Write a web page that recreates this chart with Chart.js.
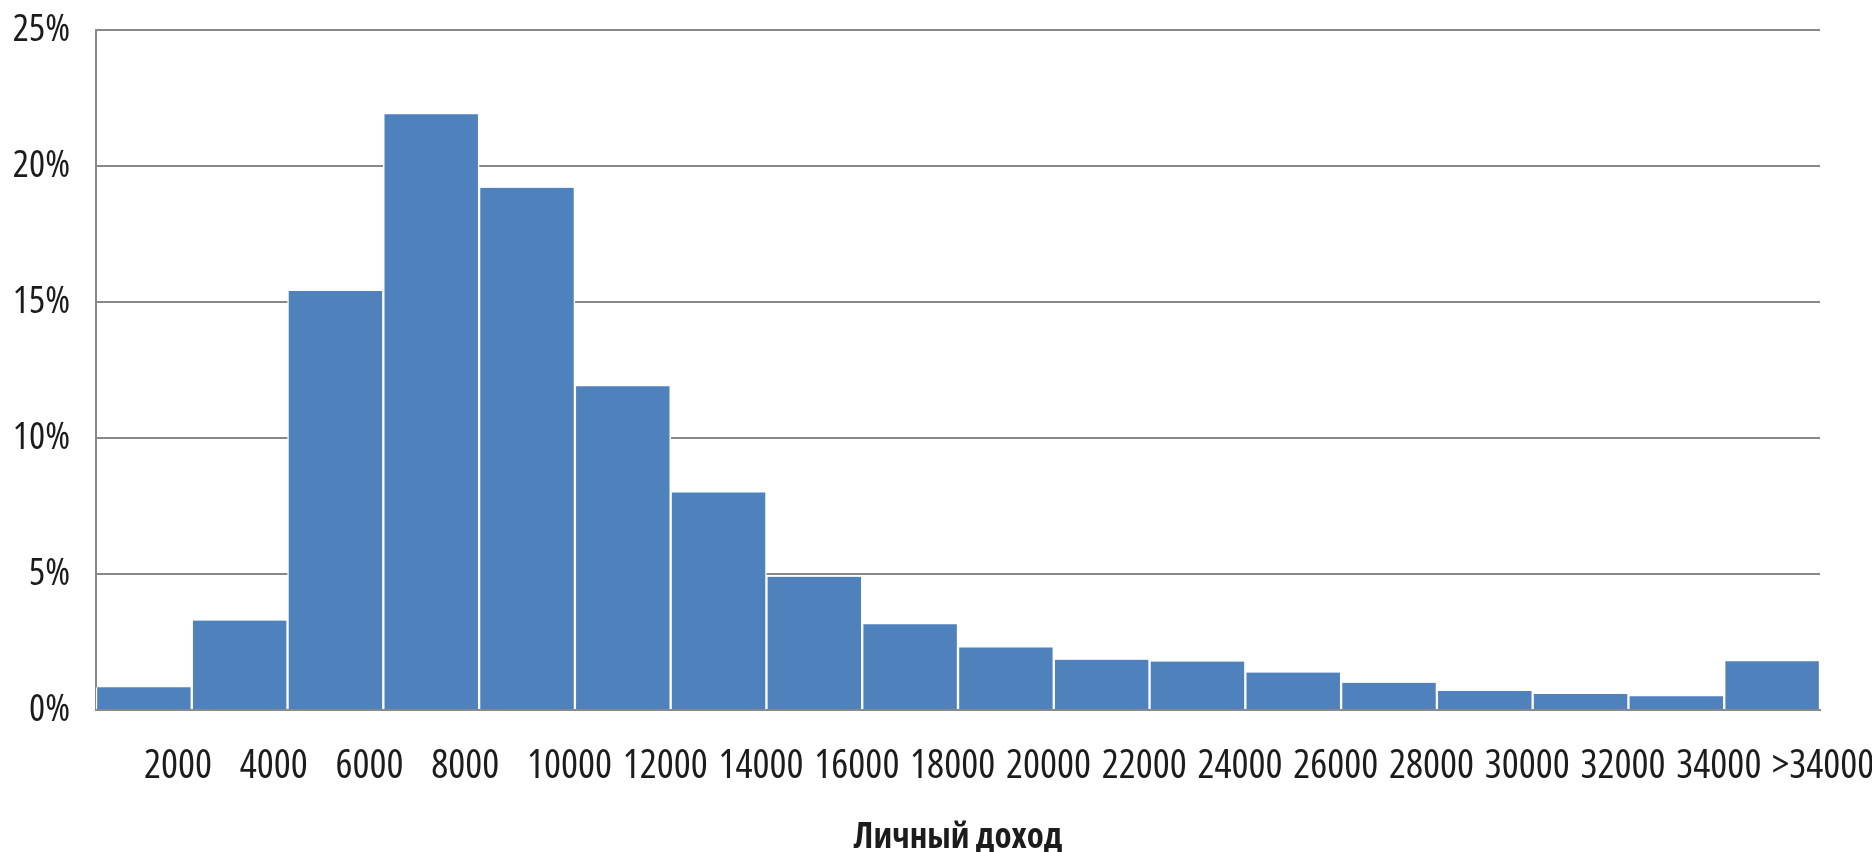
<!DOCTYPE html>
<html>
<head>
<meta charset="utf-8">
<script src="https://cdn.jsdelivr.net/npm/chart.js@4"></script>
<style>
	html, body { margin: 0; padding: 0; background: #fff; }
	#wrap { width: 1872px; height: 852px; }
</style>
</head>
<body>
<div id="wrap"><canvas id="hist"></canvas></div>
<script>
const incomeBins = ['2000', '4000', '6000', '8000', '10000', '12000', '14000', '16000', '18000',
	'20000', '22000', '24000', '26000', '28000', '30000', '32000', '34000', '>34000'];
const shares = [0.84, 3.29, 15.4, 21.9, 19.2, 11.9, 8.0, 4.9, 3.15,
	2.3, 1.85, 1.78, 1.38, 1.0, 0.7, 0.59, 0.51, 1.79];
const yTicks = [0, 5, 10, 15, 20, 25];
const axisTitle = 'Личный доход';

// Open Sans has a width axis; "condensed" goes through the weight slot of the font string
const FONT = '"Open Sans", "Roboto Condensed", sans-serif';
const gridGrey = '#898989';
const textCol = '#1c1c1c';

new Chart(document.getElementById('hist'), {
	type: 'bar',
	data: {
		labels: incomeBins,
		datasets: [{
			data: shares,
			backgroundColor: '#4f81bd',
			borderColor: '#ffffff',
			borderWidth: { left: 1.5, right: 1.5, top: 0, bottom: 0 },
			borderSkipped: false,
			barPercentage: 1,
			categoryPercentage: 1
		}]
	},
	options: {
		responsive: true,
		maintainAspectRatio: false,
		animation: false,
		layout: { padding: { left: 0, right: 0, top: 30, bottom: 0 } },
		plugins: { legend: { display: false }, tooltip: { enabled: false } },
		scales: {
			x: {
				grid: { display: false, drawTicks: false },
				border: { display: true, color: gridGrey, width: 2 },
				ticks: {
					align: 'start',
					autoSkip: false,
					maxRotation: 0,
					padding: 33,
					color: textCol,
					font: { family: FONT, size: 40, weight: 'condensed' }
				},
				title: {
					display: true,
					text: axisTitle,
					color: textCol,
					font: { family: FONT, size: 35, weight: 'bold condensed', lineHeight: 0.8 },
					padding: { top: 0, bottom: 0 }
				},
				afterFit: (s) => { s.height = 142; s.paddingRight = 52; s.paddingLeft = 0; }
			},
			y: {
				min: 0,
				max: 25,
				afterBuildTicks: (s) => { s.ticks = yTicks.map((v) => ({ value: v })); },
				grid: { color: gridGrey, lineWidth: 2, drawTicks: false },
				border: { display: true, color: gridGrey, width: 2 },
				ticks: {
					padding: 26,
					color: textCol,
					font: { family: FONT, size: 38, weight: 'condensed' },
					callback: (v) => v + '%'
				},
				afterFit: (s) => { s.width = 96; s.paddingTop = 0; s.paddingBottom = 0; }
			}
		}
	}
});
</script>
</body>
</html>
